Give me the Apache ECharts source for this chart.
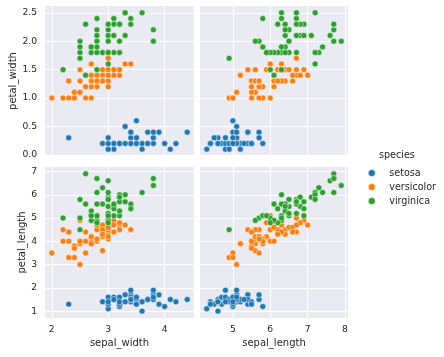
<!DOCTYPE html>
<html><head><meta charset="utf-8">
<script src="https://cdn.jsdelivr.net/npm/echarts@6/dist/echarts.min.js"></script>
<style>html,body{margin:0;padding:0;background:#fff}#c{width:444px;height:357px}</style>
</head><body><div id="c"></div>
<script>
const species = ['setosa', 'versicolor', 'virginica'];
const speciesColors = ['#1f77b4', '#ff7f0e', '#2ca02c'];

const setosa_sepal_length = [5.1,4.9,4.7,4.6,5.0,5.4,4.6,5.0,4.4,4.9,5.4,4.8,4.8,4.3,5.8,5.7,5.4,5.1,5.7,5.1,5.4,5.1,4.6,5.1,4.8,5.0,5.0,5.2,5.2,4.7,4.8,5.4,5.2,5.5,4.9,5.0,5.5,4.9,4.4,5.1,5.0,4.5,4.4,5.0,5.1,4.8,5.1,4.6,5.3,5.0];
const setosa_sepal_width = [3.5,3.0,3.2,3.1,3.6,3.9,3.4,3.4,2.9,3.1,3.7,3.4,3.0,3.0,4.0,4.4,3.9,3.5,3.8,3.8,3.4,3.7,3.6,3.3,3.4,3.0,3.4,3.5,3.4,3.2,3.1,3.4,4.1,4.2,3.1,3.2,3.5,3.6,3.0,3.4,3.5,2.3,3.2,3.5,3.8,3.0,3.8,3.2,3.7,3.3];
const setosa_petal_length = [1.4,1.4,1.3,1.5,1.4,1.7,1.4,1.5,1.4,1.5,1.5,1.6,1.4,1.1,1.2,1.5,1.3,1.4,1.7,1.5,1.7,1.5,1.0,1.7,1.9,1.6,1.6,1.5,1.4,1.6,1.6,1.5,1.5,1.4,1.5,1.2,1.3,1.4,1.3,1.5,1.3,1.3,1.3,1.6,1.9,1.4,1.6,1.4,1.5,1.4];
const setosa_petal_width = [0.2,0.2,0.2,0.2,0.2,0.4,0.3,0.2,0.2,0.1,0.2,0.2,0.1,0.1,0.2,0.4,0.4,0.3,0.3,0.3,0.2,0.4,0.2,0.5,0.2,0.2,0.4,0.2,0.2,0.2,0.2,0.4,0.1,0.2,0.2,0.2,0.2,0.1,0.2,0.2,0.3,0.3,0.2,0.6,0.4,0.3,0.2,0.2,0.2,0.2];

const versicolor_sepal_length = [7.0,6.4,6.9,5.5,6.5,5.7,6.3,4.9,6.6,5.2,5.0,5.9,6.0,6.1,5.6,6.7,5.6,5.8,6.2,5.6,5.9,6.1,6.3,6.1,6.4,6.6,6.8,6.7,6.0,5.7,5.5,5.5,5.8,6.0,5.4,6.0,6.7,6.3,5.6,5.5,5.5,6.1,5.8,5.0,5.6,5.7,5.7,6.2,5.1,5.7];
const versicolor_sepal_width = [3.2,3.2,3.1,2.3,2.8,2.8,3.3,2.4,2.9,2.7,2.0,3.0,2.2,2.9,2.9,3.1,3.0,2.7,2.2,2.5,3.2,2.8,2.5,2.8,2.9,3.0,2.8,3.0,2.9,2.6,2.4,2.4,2.7,2.7,3.0,3.4,3.1,2.3,3.0,2.5,2.6,3.0,2.6,2.3,2.7,3.0,2.9,2.9,2.5,2.8];
const versicolor_petal_length = [4.7,4.5,4.9,4.0,4.6,4.5,4.7,3.3,4.6,3.9,3.5,4.2,4.0,4.7,3.6,4.4,4.5,4.1,4.5,3.9,4.8,4.0,4.9,4.7,4.3,4.4,4.8,5.0,4.5,3.5,3.8,3.7,3.9,5.1,4.5,4.5,4.7,4.4,4.1,4.0,4.4,4.6,4.0,3.3,4.2,4.2,4.2,4.3,3.0,4.1];
const versicolor_petal_width = [1.4,1.5,1.5,1.3,1.5,1.3,1.6,1.0,1.3,1.4,1.0,1.5,1.0,1.4,1.3,1.4,1.5,1.0,1.5,1.1,1.8,1.3,1.5,1.2,1.3,1.4,1.4,1.7,1.5,1.0,1.1,1.0,1.2,1.6,1.5,1.6,1.5,1.3,1.3,1.3,1.2,1.4,1.2,1.0,1.3,1.2,1.3,1.3,1.1,1.3];

const virginica_sepal_length = [6.3,5.8,7.1,6.3,6.5,7.6,4.9,7.3,6.7,7.2,6.5,6.4,6.8,5.7,5.8,6.4,6.5,7.7,7.7,6.0,6.9,5.6,7.7,6.3,6.7,7.2,6.2,6.1,6.4,7.2,7.4,7.9,6.4,6.3,6.1,7.7,6.3,6.4,6.0,6.9,6.7,6.9,5.8,6.8,6.7,6.7,6.3,6.5,6.2,5.9];
const virginica_sepal_width = [3.3,2.7,3.0,2.9,3.0,3.0,2.5,2.9,2.5,3.6,3.2,2.7,3.0,2.5,2.8,3.2,3.0,3.8,2.6,2.2,3.2,2.8,2.8,2.7,3.3,3.2,2.8,3.0,2.8,3.0,2.8,3.8,2.8,2.8,2.6,3.0,3.4,3.1,3.0,3.1,3.1,3.1,2.7,3.2,3.3,3.0,2.5,3.0,3.4,3.0];
const virginica_petal_length = [6.0,5.1,5.9,5.6,5.8,6.6,4.5,6.3,5.8,6.1,5.1,5.3,5.5,5.0,5.1,5.3,5.5,6.7,6.9,5.0,5.7,4.9,6.7,4.9,5.7,6.0,4.8,4.9,5.6,5.8,6.1,6.4,5.6,5.1,5.6,6.1,5.6,5.5,4.8,5.4,5.6,5.1,5.1,5.9,5.7,5.2,5.0,5.2,5.4,5.1];
const virginica_petal_width = [2.5,1.9,2.1,1.8,2.2,2.1,1.7,1.8,1.8,2.5,2.0,1.9,2.1,2.0,2.4,2.3,1.8,2.2,2.3,1.5,2.3,2.0,2.0,1.8,2.1,1.8,1.8,1.8,2.1,1.6,1.9,2.0,2.2,1.5,1.4,2.3,2.4,1.8,1.8,2.1,2.4,2.3,1.9,2.3,2.5,2.3,1.9,2.0,2.3,1.8];

const sepal_width_ticks = [2, 3, 4];
const sepal_length_ticks = [5, 6, 7, 8];
const petal_width_ticks = [0, 0.5, 1.0, 1.5, 2.0, 2.5];
const petal_length_ticks = [1, 2, 3, 4, 5, 6, 7];

const columns = {
  setosa: {sepal_length: setosa_sepal_length, sepal_width: setosa_sepal_width, petal_length: setosa_petal_length, petal_width: setosa_petal_width},
  versicolor: {sepal_length: versicolor_sepal_length, sepal_width: versicolor_sepal_width, petal_length: versicolor_petal_length, petal_width: versicolor_petal_width},
  virginica: {sepal_length: virginica_sepal_length, sepal_width: virginica_sepal_width, petal_length: virginica_petal_length, petal_width: virginica_petal_width}
};

function range(v) {
  let all = [];
  species.forEach(s => { all = all.concat(columns[s][v]); });
  const lo = Math.min(...all), hi = Math.max(...all), m = (hi - lo) * 0.05;
  return [lo - m, hi + m];
}

const TXT = '#262626';
const FONT = 'DejaVu Sans';

const panels = [
  ['sepal_width', 'petal_width'],
  ['sepal_length', 'petal_width'],
  ['sepal_width', 'petal_length'],
  ['sepal_length', 'petal_length']
];
const tickMap = {sepal_width: sepal_width_ticks, sepal_length: sepal_length_ticks, petal_width: petal_width_ticks, petal_length: petal_length_ticks};

const grids = [
  {left: 45, top: 6, width: 149, height: 150},
  {left: 200, top: 6, width: 148, height: 150},
  {left: 45, top: 167, width: 149, height: 151},
  {left: 200, top: 167, width: 148, height: 151}
].map(g => Object.assign({backgroundColor: '#EAEAF2', show: true, borderWidth: 0, containLabel: false}, g));

function makeAxis(kind, idx, v, showLabels) {
  const r = range(v);
  const ticks = tickMap[v];
  const isY = kind === 'y';
  const ax = {
    type: 'value', gridIndex: idx, min: r[0], max: r[1],
    axisLine: {show: false},
    axisTick: {show: false, customValues: ticks},
    splitLine: {show: true, lineStyle: {color: '#ffffff', width: 1}},
    axisLabel: {
      show: showLabels, customValues: ticks, color: TXT, fontFamily: FONT, fontSize: 9.2,
      margin: isY ? 8 : 7,
      formatter: v === 'petal_width' ? (val => val.toFixed(1)) : (val => String(val))
    }
  };
  if (showLabels) {
    ax.name = v;
    ax.nameLocation = 'middle';
    ax.nameTextStyle = {color: TXT, fontFamily: FONT, fontSize: 10};
    if (isY) { ax.nameRotate = 90; ax.nameGap = v === 'petal_width' ? 27 : 18; }
    else { ax.nameGap = 20; }
  }
  return ax;
}

const xAxes = panels.map((p, i) => makeAxis('x', i, p[0], i >= 2));
const yAxes = panels.map((p, i) => makeAxis('y', i, p[1], i % 2 === 0));

const series = [];
panels.forEach((p, i) => {
  species.forEach((s, k) => {
    const xs = columns[s][p[0]], ys = columns[s][p[1]];
    series.push({
      type: 'scatter', name: s, xAxisIndex: i, yAxisIndex: i,
      data: xs.map((x, j) => [x, ys[j]]),
      symbolSize: 6,
      itemStyle: {color: speciesColors[k], borderColor: '#ffffff', borderWidth: 0.5, opacity: 1},
      emphasis: {disabled: true},
      silent: true
    });
  });
});

const chart = echarts.init(document.getElementById('c'), null, {renderer: 'canvas'});
chart.setOption({
  animation: false,
  color: speciesColors,
  grid: grids,
  xAxis: xAxes,
  yAxis: yAxes,
  series: series,
  legend: {
    data: species, orient: 'vertical', left: 363, top: 163,
    icon: 'circle', itemWidth: 7, itemHeight: 7, itemGap: 4,
    selectedMode: false,
    textStyle: {color: TXT, fontFamily: FONT, fontSize: 9.6, lineHeight: 10, padding: [0, 0, 0, 9]},
    itemStyle: {borderColor: '#ffffff', borderWidth: 0.5}
  },
  graphic: [{
    type: 'text', left: 379, top: 150,
    style: {text: 'species', fill: TXT, font: '9.6px "DejaVu Sans"'}
  }]
});
</script></body></html>
